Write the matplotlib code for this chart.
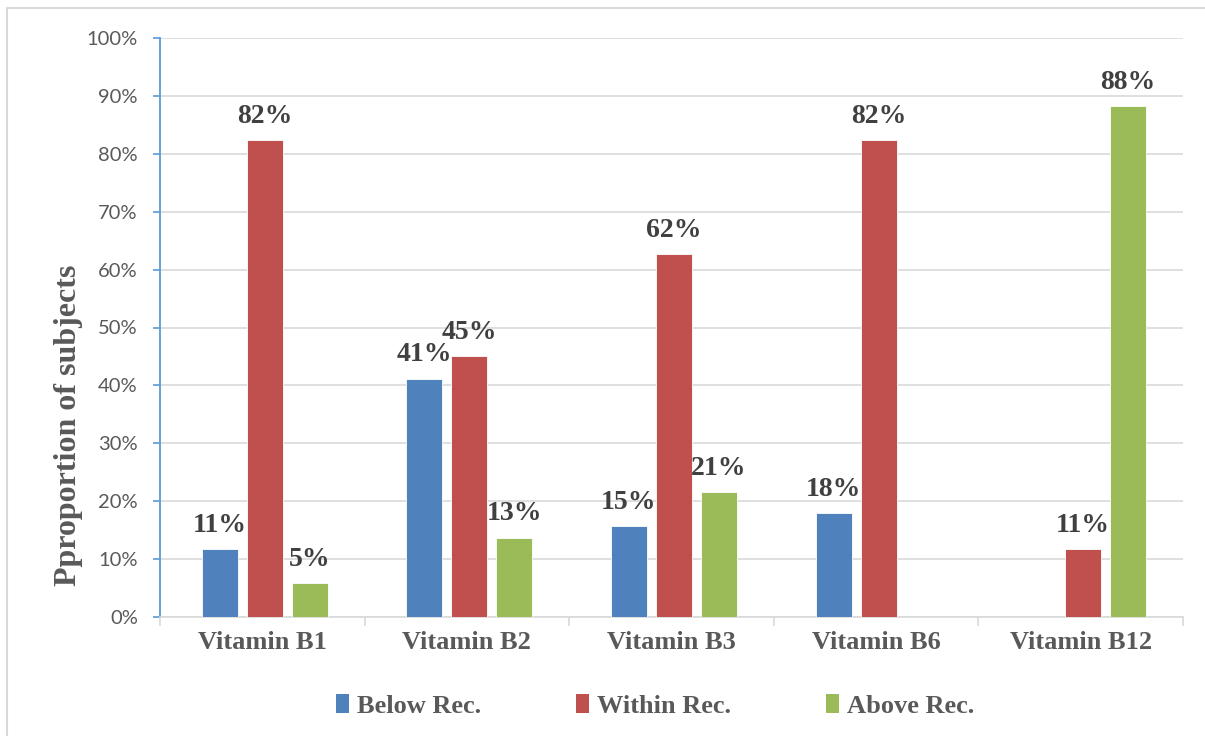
import matplotlib
matplotlib.use("Agg")
import matplotlib.pyplot as plt
from matplotlib.lines import Line2D
from matplotlib.patches import Patch
from matplotlib.ticker import FuncFormatter, MultipleLocator
import numpy as np

# share of subjects per vitamin, relative to the recommended intake (%)
vitamins = ["Vitamin B1", "Vitamin B2", "Vitamin B3", "Vitamin B6", "Vitamin B12"]
below_rec = [11.76, 41.18, 15.69, 18.0, 0.0]
within_rec = [82.35, 45.10, 62.75, 82.35, 11.76]
above_rec = [5.88, 13.73, 21.57, 0.0, 88.24]

series = [
    ("Below Rec.", below_rec, "#4F81BD"),
    ("Within Rec.", within_rec, "#C0504D"),
    ("Above Rec.", above_rec, "#9BBB59"),
]

SERIF = "Liberation Serif"
SANS = ["Lato", "DejaVu Sans"]

W, H = 1205, 736
fig = plt.figure(figsize=(W / 100, H / 100), dpi=100)
ax = fig.add_axes([160 / W, 1 - 617 / H, (1183 - 160) / W, (617 - 38) / H])

# chart area frame (only left/top edges fall inside the canvas)
fig.add_artist(Line2D([7 / W, 7 / W, 1.0], [0.0, 1 - 8 / H, 1 - 8 / H],
                      transform=fig.transFigure, color="#D9D9D9", lw=1.5))

x = np.arange(len(vitamins)) + 0.012
width, step = 0.176, 0.22
for i, (name, vals, color) in enumerate(series):
    xs = x + (i - 1) * step
    ax.bar(xs, vals, width, color=color, edgecolor="white", linewidth=0.6,
           label=name, zorder=3)
    for xi, v in zip(xs, vals):
        if v <= 0:
            continue
        ax.annotate(f"{int(v)}%", (xi, v), xytext=(0, 8), textcoords="offset points",
                    ha="center", va="bottom", fontsize=20, fontweight="bold",
                    family=SERIF, color="#404040")

ax.set_xlim(-0.5, len(vitamins) - 0.5)
ax.set_ylim(0, 100)
ax.yaxis.set_major_locator(MultipleLocator(10))
ax.yaxis.set_major_formatter(FuncFormatter(lambda v, _: f"{int(v)}%"))
ax.grid(axis="y", color="#D9D9D9", lw=1.2, zorder=0)

ax.set_xticks(np.arange(len(vitamins)))
ax.set_xticklabels(vitamins, fontsize=19, fontweight="bold", family=SERIF, color="#595959")
ax.set_xticks(np.arange(len(vitamins) + 1) - 0.5, minor=True)
ax.tick_params(axis="x", which="major", length=0, pad=10)
ax.tick_params(axis="x", which="minor", length=6.5, width=1.2, color="#D9D9D9")
ax.tick_params(axis="y", length=5, width=1.2, color="#5B9BD5", pad=11,
               labelsize=14.5, labelcolor="#595959")
for lab in ax.get_yticklabels():
    lab.set_family(SANS)

for side in ("top", "right"):
    ax.spines[side].set_visible(False)
ax.spines["left"].set_color("#5B9BD5")
ax.spines["left"].set_linewidth(1.3)
ax.spines["bottom"].set_color("#D9D9D9")
ax.spines["bottom"].set_linewidth(1.2)

fig.text(69 / W, 1 - 425 / H, "Pproportion of subjects", rotation=90,
         ha="center", va="center", fontsize=23, fontweight="bold",
         family=SERIF, color="#595959")

handles = [Patch(facecolor=c, edgecolor="none") for _, _, c in series]
fig.legend(handles, [n for n, _, _ in series], loc="center", ncol=3,
           bbox_to_anchor=(655 / W, 1 - 706 / H), frameon=False,
           prop={"family": SERIF, "weight": "bold", "size": 19},
           handlelength=0.5, handleheight=0.7, handletextpad=0.3,
           columnspacing=3.6, labelcolor="#595959")

fig.savefig("out.png", dpi=100)
